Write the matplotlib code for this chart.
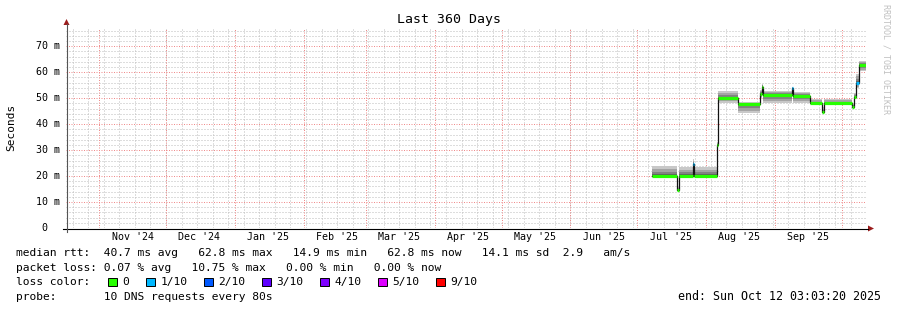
import matplotlib
matplotlib.use('Agg')
import matplotlib.pyplot as plt
import pandas as pd
import numpy as np
from matplotlib.patches import Rectangle, Polygon

# ---- data (ms) ----
t_start = pd.Timestamp('2024-10-17 03:03:20')
t_end = pd.Timestamp('2025-10-12 03:03:20')

sample_times = ['2025-07-07 12:00', '2025-07-18 18:00', '2025-07-19 19:00', '2025-07-26 00:00',
                '2025-07-26 18:00', '2025-08-05 18:00', '2025-08-06 06:00', '2025-08-15 12:00',
                '2025-08-25 06:00', '2025-08-26 00:00', '2025-08-26 12:00', '2025-09-08 12:00',
                '2025-09-09 00:00', '2025-09-16 18:00', '2025-09-22 06:00', '2025-09-23 06:00',
                '2025-10-05 12:00', '2025-10-06 12:00', '2025-10-07 12:00', '2025-10-08 18:00']
median_ms = [20.0, 14.6, 20.0, 24.5, 20.0, 32.0, 50.0, 47.6, 51.8, 54.5,
             51.3, 53.8, 51.0, 48.0, 44.8, 48.0, 46.8, 50.5, 55.8, 62.8]
smoke_lo = [19.8, 14.3, 19.8, 20.0, 19.8, 30.0, 48.3, 44.3, 50.0, 52.0,
            48.1, 51.0, 48.1, 47.8, 44.5, 47.8, 46.5, 49.5, 54.0, 60.3]
smoke_hi = [23.7, 15.8, 23.5, 26.4, 23.4, 33.0, 52.6, 48.6, 53.0, 55.5,
            52.6, 54.5, 52.2, 49.6, 46.5, 49.6, 47.8, 52.0, 59.5, 64.2]
loss = [0, 0, 0, 1, 0, 0, 0, 0, 0, 0, 0, 1, 0, 0, 0, 0, 0, 0, 1, 0]

loss_labels = ['0', '1/10', '2/10', '3/10', '4/10', '5/10', '9/10']
loss_colors = ['#26ff00', '#00b8ff', '#0059ff', '#5e00ff', '#7e00ff', '#dd00ff', '#ff0000']

month_starts = pd.date_range('2024-11-01', '2025-10-01', freq='MS')
week_lines = pd.date_range('2024-10-20', '2025-10-12', freq='7D')
month_labels = pd.date_range('2024-11-01', '2025-09-01', freq='MS') + pd.Timedelta(days=15)

mono = 'DejaVu Sans Mono'

W, H = 897, 310
fig = plt.figure(figsize=(W / 100, H / 100), dpi=100)
x0, x1, y0, y1 = 66.2, 866.4, 228, 28
ax = fig.add_axes([x0 / W, 1 - y0 / H, (x1 - x0) / W, (y0 - y1) / H])
ax.set_xlim(t_start, t_end)
ax.set_ylim(0, 77.04)
for s in ax.spines.values():
    s.set_visible(False)
ax.set_xticks([])
ax.set_yticks([])

# grid, dotted like rrdtool
minor_kw = dict(color='#bdbdbd', lw=0.72, ls=(0, (1, 2)), zorder=0)
major_kw = dict(color='#f08c8c', lw=0.72, ls=(0, (1, 1.5)), zorder=0.5)
for d in week_lines:
    ax.axvline(d, **minor_kw)
for v in range(2, 78, 2):
    if v % 10:
        ax.axhline(v, **minor_kw)
for d in month_starts:
    ax.axvline(d, **major_kw)
for v in range(10, 78, 10):
    ax.axhline(v, **major_kw)

# smoke
tt = pd.DatetimeIndex(pd.to_datetime(sample_times).tolist() + [t_end])
med = np.array(median_ms + [median_ms[-1]])
lo = np.array(smoke_lo + [smoke_lo[-1]])
hi = np.array(smoke_hi + [smoke_hi[-1]])
shades = ['#c8c8c8', '#a4a4a4', '#828282', '#606060']
for f, c in zip([1.0, 0.72, 0.45, 0.2], shades):
    ax.fill_between(tt, med - f * (med - lo), med + f * (hi - med), step='post',
                    color=c, lw=0, zorder=2)

# median line
ax.step(tt, med, where='post', color='#111111', lw=0.9, zorder=3)
for i in range(len(sample_times)):
    ax.hlines(median_ms[i], tt[i], tt[i + 1], color=loss_colors[loss[i]], lw=2.3, zorder=4)

# axes lines + arrows
fig.add_artist(plt.Line2D([63 / W, 868 / W], [1 - 228.5 / H] * 2, color='#000000', lw=0.8))
fig.add_artist(plt.Line2D([66.5 / W] * 2, [1 - 232 / H, 1 - 24 / H], color='#555555', lw=0.8))
fig.add_artist(Polygon([[868 / W, 1 - 225.5 / H], [868 / W, 1 - 231.5 / H], [874 / W, 1 - 228.5 / H]],
                       closed=True, color='#9b1c1c', lw=0))
fig.add_artist(Polygon([[63.5 / W, 1 - 25 / H], [69.5 / W, 1 - 25 / H], [66.5 / W, 1 - 19 / H]],
                       closed=True, color='#9b1c1c', lw=0))

# tick labels
for v in range(0, 80, 10):
    lab = ' 0' if v == 0 else '%d m' % v
    yy = 228 - v * 200 / 77.04
    fig.text(36 / W, 1 - yy / H, lab, family=mono, fontsize=7.2, ha='left', va='center')
for d in month_labels:
    xx = x0 + (d - t_start).total_seconds() / (t_end - t_start).total_seconds() * (x1 - x0)
    fig.text(xx / W, 1 - 237.5 / H, d.strftime("%b '%y"), family=mono, fontsize=7.2,
             ha='center', va='center')

fig.text(448.5 / W, 1 - 19 / H, 'Last 360 Days', family=mono, fontsize=9.5, ha='center', va='center')
fig.text(11 / W, 1 - 127 / H, 'Seconds', family=mono, fontsize=8, rotation=90, ha='center', va='center')
fig.text(886 / W, 1 - 59 / H, 'RRDTOOL / TOBI OETIKER', family=mono, fontsize=6, rotation=270,
         ha='center', va='center', color='#c0c0c0')

# legend
fs = 8.15
fig.text(16 / W, 1 - 253.5 / H,
         'median rtt:  40.7 ms avg   62.8 ms max   14.9 ms min   62.8 ms now   14.1 ms sd  2.9   am/s',
         family=mono, fontsize=fs, va='center')
fig.text(16 / W, 1 - 268 / H, 'packet loss: 0.07 % avg   10.75 % max   0.00 % min   0.00 % now',
         family=mono, fontsize=fs, va='center')
fig.text(16 / W, 1 - 282 / H, 'loss color:', family=mono, fontsize=fs, va='center')
sx = 108.3
for lab, c in zip(loss_labels, loss_colors):
    fig.add_artist(Rectangle((sx / W, 1 - 286 / H), 8.5 / W, 8.5 / H, facecolor=c,
                             edgecolor='#000000', lw=0.7))
    fig.text((sx + 14.2) / W, 1 - 282 / H, lab, family=mono, fontsize=fs, va='center')
    sx = sx + 14.2 + len(lab) * 6.75 + 16.8
fig.text(16 / W, 1 - 296.5 / H, 'probe:       10 DNS requests every 80s', family=mono, fontsize=fs, va='center')
fig.text(881 / W, 1 - 296.5 / H, 'end: Sun Oct 12 03:03:20 2025', family=mono, fontsize=8.4,
         va='center', ha='right')

fig.savefig('out.png', dpi=100)
